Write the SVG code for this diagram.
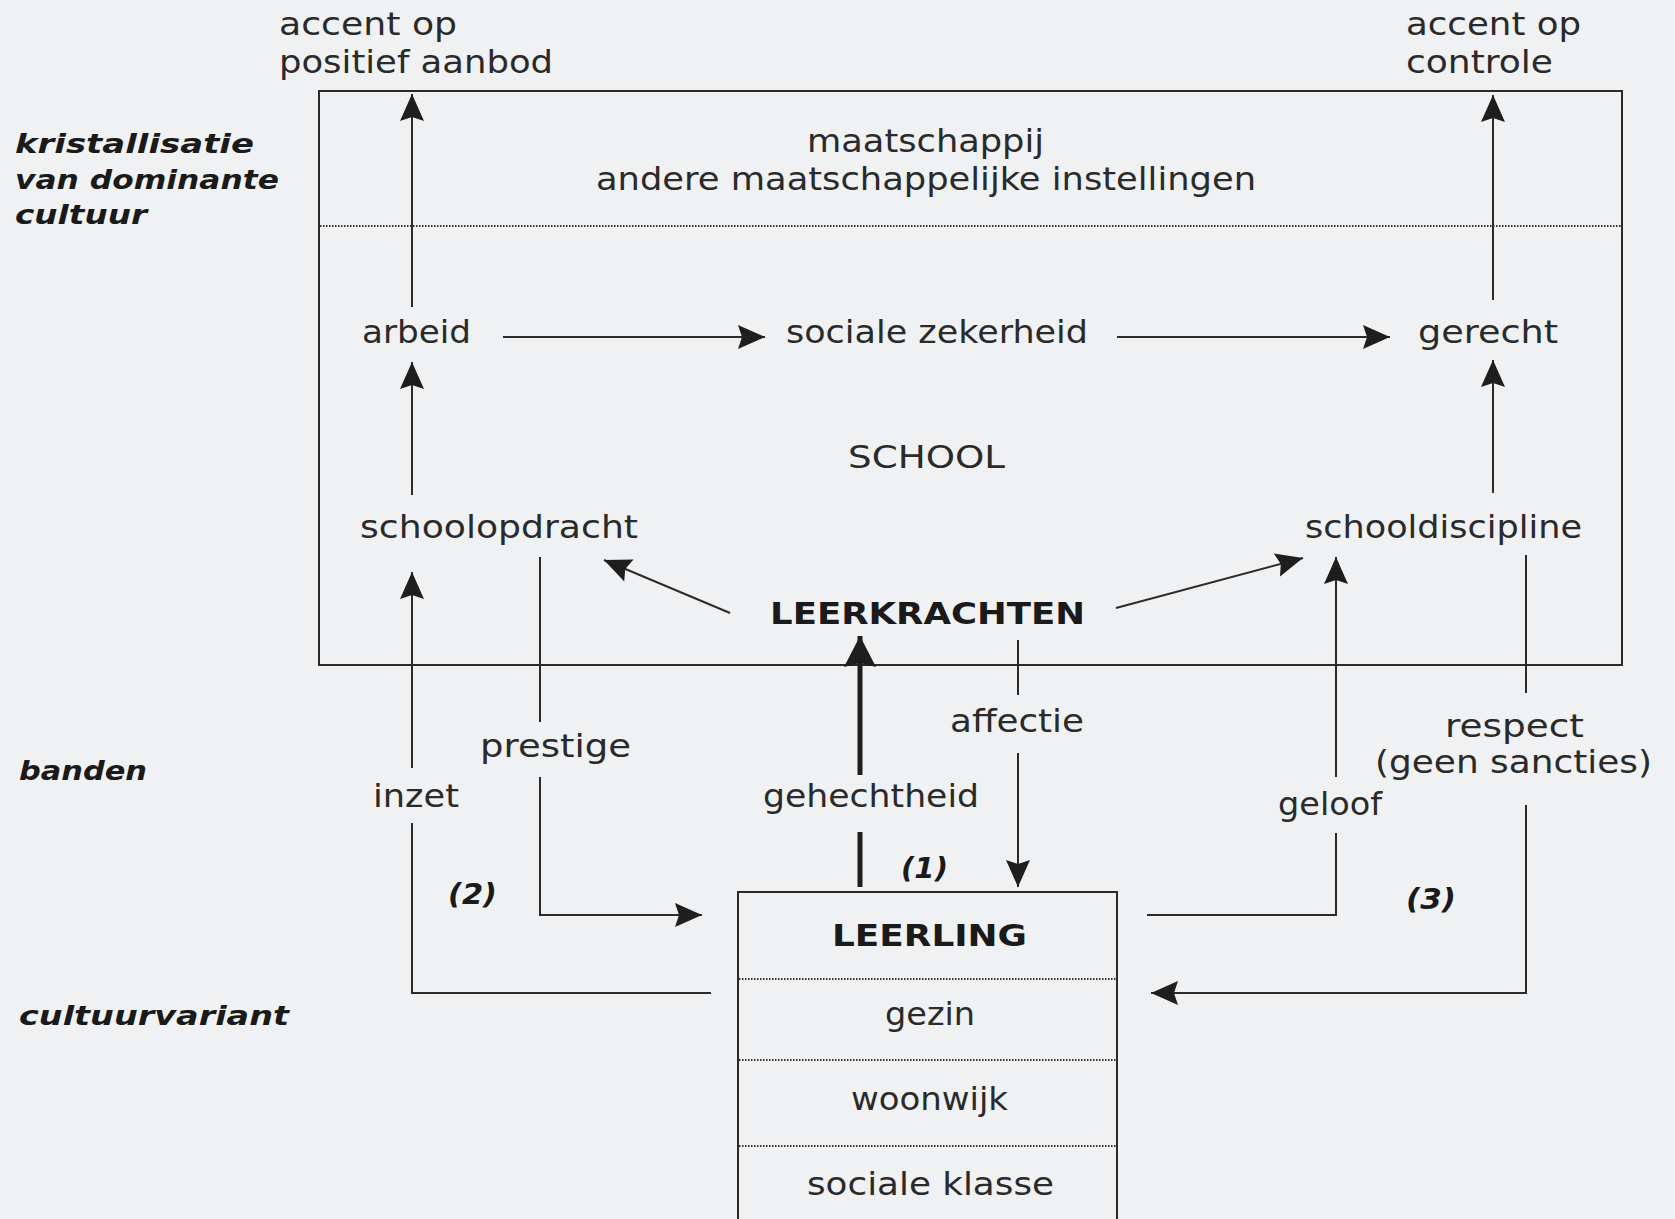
<svg xmlns="http://www.w3.org/2000/svg" width="1675" height="1219" viewBox="0 0 1675 1219">
<defs>
<style>
.t{font-family:"DejaVu Sans",sans-serif;font-size:32px;fill:#2a2a2a}
.b{font-family:"DejaVu Sans",sans-serif;font-size:31px;font-weight:bold;fill:#1a1a1a}
.bi{font-family:"DejaVu Sans",sans-serif;font-size:26px;font-weight:bold;font-style:italic;fill:#1a1a1a}
.n{font-family:"DejaVu Sans",sans-serif;font-size:28px;font-weight:bold;font-style:italic;fill:#1a1a1a}
.ln{fill:none;stroke:#2b2b2b;stroke-width:2}
.thick{fill:none;stroke:#1e1e1e;stroke-width:5}
.dot{fill:none;stroke:#333;stroke-width:2;stroke-dasharray:1.5 1.5}
.arr{marker-end:url(#ah)}
.arrT{marker-end:url(#ahT)}
</style>
<marker id="ah" markerUnits="userSpaceOnUse" orient="auto" markerWidth="40" markerHeight="40" refX="0" refY="0" overflow="visible">
<path d="M0,0 L-27,-12 L-23,0 L-27,12 Z" fill="#1e1e1e"/>
</marker>
<marker id="ahT" markerUnits="userSpaceOnUse" orient="auto" markerWidth="40" markerHeight="40" refX="0" refY="0" overflow="visible">
<path d="M0,0 L-31,-16 L-27,0 L-31,16 Z" fill="#1e1e1e"/>
</marker>
</defs>
<rect x="0" y="0" width="1675" height="1219" fill="#f0f1f3"/>

<g id="frame">
<rect class="ln" x="319" y="91" width="1303" height="574"/>
<line class="dot" x1="320" y1="226" x2="1621" y2="226"/>
</g>

<g id="left-labels">
<text class="bi" x="15" y="153" textLength="239" lengthAdjust="spacingAndGlyphs">kristallisatie</text>
<text class="bi" x="15" y="189" textLength="264" lengthAdjust="spacingAndGlyphs">van dominante</text>
<text class="bi" x="15" y="224" textLength="132" lengthAdjust="spacingAndGlyphs">cultuur</text>
<text class="bi" x="19" y="780" textLength="128" lengthAdjust="spacingAndGlyphs">banden</text>
<text class="bi" x="19" y="1025" textLength="270" lengthAdjust="spacingAndGlyphs">cultuurvariant</text>
</g>

<g id="accent-positief">
<text class="t" x="279" y="35" textLength="178" lengthAdjust="spacingAndGlyphs">accent op</text>
<text class="t" x="279" y="73" textLength="274" lengthAdjust="spacingAndGlyphs">positief aanbod</text>
</g>
<g id="accent-controle">
<text class="t" x="1406" y="35" textLength="175" lengthAdjust="spacingAndGlyphs">accent op</text>
<text class="t" x="1406" y="73" textLength="147" lengthAdjust="spacingAndGlyphs">controle</text>
</g>

<g id="maatschappij">
<text class="t" x="807" y="152" textLength="237" lengthAdjust="spacingAndGlyphs">maatschappij</text>
<text class="t" x="596" y="190" textLength="660" lengthAdjust="spacingAndGlyphs">andere maatschappelijke instellingen</text>
</g>

<g id="arbeid"><text class="t" x="362" y="343" textLength="109" lengthAdjust="spacingAndGlyphs">arbeid</text></g>
<g id="sociale-zekerheid"><text class="t" x="786" y="343" textLength="302" lengthAdjust="spacingAndGlyphs">sociale zekerheid</text></g>
<g id="gerecht"><text class="t" x="1418" y="343" textLength="140" lengthAdjust="spacingAndGlyphs">gerecht</text></g>
<g id="school"><text class="t" x="848" y="468" textLength="157" lengthAdjust="spacingAndGlyphs">SCHOOL</text></g>
<g id="schoolopdracht"><text class="t" x="360" y="538" textLength="278" lengthAdjust="spacingAndGlyphs">schoolopdracht</text></g>
<g id="schooldiscipline"><text class="t" x="1305" y="538" textLength="277" lengthAdjust="spacingAndGlyphs">schooldiscipline</text></g>
<g id="leerkrachten"><text class="b" x="770" y="624" textLength="315" lengthAdjust="spacingAndGlyphs">LEERKRACHTEN</text></g>

<g id="leerling">
<path class="ln" d="M738,1225 V892 H1117 V1225"/>
<line class="dot" x1="739" y1="979" x2="1116" y2="979"/>
<line class="dot" x1="739" y1="1060" x2="1116" y2="1060"/>
<line class="dot" x1="739" y1="1146" x2="1116" y2="1146"/>
<text class="b" x="832" y="946" textLength="195" lengthAdjust="spacingAndGlyphs">LEERLING</text>
<text class="t" x="885" y="1025" textLength="90" lengthAdjust="spacingAndGlyphs">gezin</text>
<text class="t" x="851" y="1110" textLength="157" lengthAdjust="spacingAndGlyphs">woonwijk</text>
<text class="t" x="807" y="1195" textLength="247" lengthAdjust="spacingAndGlyphs">sociale klasse</text>
</g>

<g id="connectors">
<path class="ln arr" d="M412,307 V94"/>
<path class="ln arr" d="M412,495 V362"/>
<path class="ln" d="M711,993 H412 V823"/>
<path class="ln arr" d="M412,768 V572"/>
<path class="ln" d="M540,557 V722"/>
<path class="ln arr" d="M540,777 V915 H702"/>
<path class="ln arr" d="M503,337 H765"/>
<path class="ln arr" d="M1117,337 H1390"/>
<path class="ln arr" d="M1493,300 V95"/>
<path class="ln arr" d="M1493,493 V360"/>
<path class="ln arr" d="M730,613 L604,560"/>
<path class="ln arr" d="M1116,608 L1303,558"/>
<path class="thick" d="M860,887 V832"/>
<path class="thick arrT" d="M860,775 V636"/>
<path class="ln" d="M1018,640 V695"/>
<path class="ln arr" d="M1018,753 V887"/>
<path class="ln" d="M1147,915 H1336 V833"/>
<path class="ln arr" d="M1336,777 V557"/>
<path class="ln" d="M1526,555 V693"/>
<path class="ln arr" d="M1526,805 V993 H1151"/>
</g>

<g id="edge-labels">
<text class="t" x="373" y="807" textLength="86" lengthAdjust="spacingAndGlyphs">inzet</text>
<text class="t" x="480" y="757" textLength="151" lengthAdjust="spacingAndGlyphs">prestige</text>
<text class="t" x="763" y="807" textLength="216" lengthAdjust="spacingAndGlyphs">gehechtheid</text>
<text class="t" x="950" y="732" textLength="134" lengthAdjust="spacingAndGlyphs">affectie</text>
<text class="t" x="1278" y="815" textLength="104" lengthAdjust="spacingAndGlyphs">geloof</text>
<text class="t" x="1445" y="737" textLength="139" lengthAdjust="spacingAndGlyphs">respect</text>
<text class="t" x="1375" y="773" textLength="277" lengthAdjust="spacingAndGlyphs">(geen sancties)</text>
<text class="n" x="901" y="878" textLength="47" lengthAdjust="spacingAndGlyphs">(1)</text>
<text class="n" x="448" y="904" textLength="49" lengthAdjust="spacingAndGlyphs">(2)</text>
<text class="n" x="1406" y="909" textLength="50" lengthAdjust="spacingAndGlyphs">(3)</text>
</g>
</svg>
